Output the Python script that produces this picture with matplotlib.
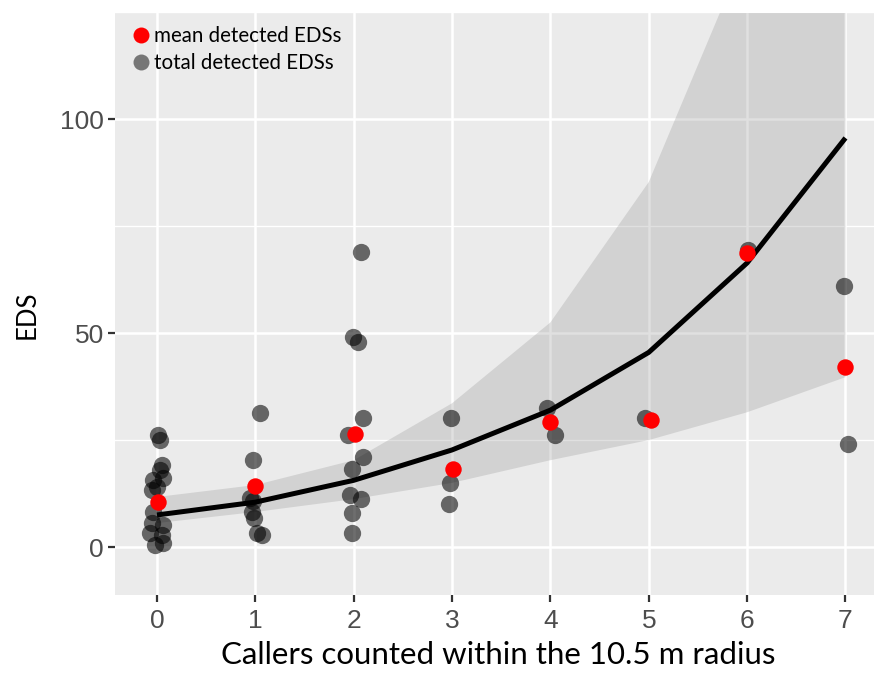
import matplotlib
matplotlib.use("Agg")
import matplotlib.pyplot as plt
from matplotlib.lines import Line2D
import numpy as np

# ---- data ----
callers_total = [0.01, 0.03, 0.05, 0.03, 0.06, -0.04, 0.00, -0.05, -0.04, -0.05, 0.06, -0.07, 0.05, -0.02, 0.06,
                 1.05, 0.98, 0.95, 0.98, 0.97, 0.99, 1.02, 1.07,
                 2.07, 1.99, 2.04, 2.09, 1.94, 2.09, 1.98, 1.96, 2.07, 1.98, 1.98,
                 2.99, 2.98, 2.97,
                 3.97, 4.05,
                 4.96,
                 6.01,
                 6.99, 7.03]
eds_total = [26.2, 25.0, 19.2, 18.0, 16.1, 15.7, 14.0, 13.3, 8.2, 5.6, 5.1, 3.3, 2.8, 0.5, 0.9,
             31.3, 20.3, 11.4, 10.8, 8.2, 6.8, 3.3, 2.8,
             69.0, 49.0, 47.9, 30.1, 26.2, 21.0, 18.2, 12.1, 11.2, 7.9, 3.3,
             30.1, 15.0, 10.0,
             32.5, 26.2,
             30.1,
             69.4,
             61.0, 24.0]

callers_mean = [0.01, 1.00, 2.01, 3.01, 4.00, 5.02, 6.00, 7.00]
eds_mean = [10.5, 14.3, 26.4, 18.2, 29.2, 29.7, 68.7, 42.0]

fit_x = [0, 1, 2, 3, 4, 5, 6, 7]
fit_mean = [7.5, 10.5, 15.6, 22.7, 32.0, 45.5, 66.4, 95.6]
fit_lower = [5.6, 8.2, 11.2, 15.0, 20.3, 25.0, 31.5, 39.7]
fit_upper = [11.7, 14.5, 20.3, 33.6, 52.5, 85.3, 140.0, 230.0]

x_ticks = [0, 1, 2, 3, 4, 5, 6, 7]
y_ticks = [0, 50, 100]
y_minor = [25, 75, 125]

W, H = 874, 673
fig = plt.figure(figsize=(W / 100, H / 100), dpi=100)
fig.patch.set_facecolor("white")
ax = fig.add_axes([115 / W, 1 - 595 / H, (874 - 115) / W, (595 - 13) / H])
ax.set_facecolor("#EBEBEB")
for s in ax.spines.values():
    s.set_visible(False)

ax.set_xlim(-0.427, 7.29)
ax.set_ylim(-11.2, 124.8)

# grid
for yv in y_ticks:
    ax.axhline(yv, color="white", lw=1.8, zorder=0.5)
for yv in y_minor:
    ax.axhline(yv, color="white", lw=1.0, zorder=0.5)
for xv in x_ticks:
    ax.axvline(xv, color="white", lw=1.8, zorder=0.5)

# ribbon
ax.fill_between(fit_x, fit_lower, fit_upper, color="#999999", alpha=0.3, lw=0, zorder=1)
# total points
ax.scatter(callers_total, eds_total, s=155, color="black", alpha=0.57, lw=0, zorder=2)
# fit line
ax.plot(fit_x, fit_mean, color="black", lw=3.6, zorder=3, solid_capstyle="butt")
# mean points
ax.scatter(callers_mean, eds_mean, s=140, color="#FF0000", lw=0, zorder=4)

ax.set_xticks(x_ticks)
ax.set_yticks(y_ticks)
ax.tick_params(axis="both", length=5, width=1.6, color="#333333", labelcolor="#4D4D4D",
               labelsize=19, pad=3)
ax.tick_params(axis="x", pad=5)
for lab in ax.get_xticklabels() + ax.get_yticklabels():
    lab.set_fontfamily(["Liberation Sans", "DejaVu Sans"])

fig.text(498 / W, 1 - 655 / H, "Callers counted within the 10.5 m radius", ha="center", va="center",
         fontsize=22.5, family=["Lato", "DejaVu Sans"], color="black")
fig.text(27 / W, 1 - 315 / H, "EDS", ha="center", va="center", rotation=90,
         fontsize=18.5, family=["Lato", "DejaVu Sans"], color="black")

handles = [
    Line2D([], [], marker="o", ls="", markersize=11.5, markerfacecolor="#FF0000", markeredgewidth=0),
    Line2D([], [], marker="o", ls="", markersize=11.5, markerfacecolor="#767676", markeredgewidth=0),
]
leg = ax.legend(handles, ["mean detected EDSs", "total detected EDSs"], loc="upper left",
                bbox_to_anchor=(0.0, 1.0), frameon=False, handletextpad=0.05, handlelength=1.2,
                labelspacing=0.33, borderaxespad=0.25,
                prop={"family": ["Lato", "DejaVu Sans"], "size": 14.8})

fig.savefig("out.png", dpi=100)
